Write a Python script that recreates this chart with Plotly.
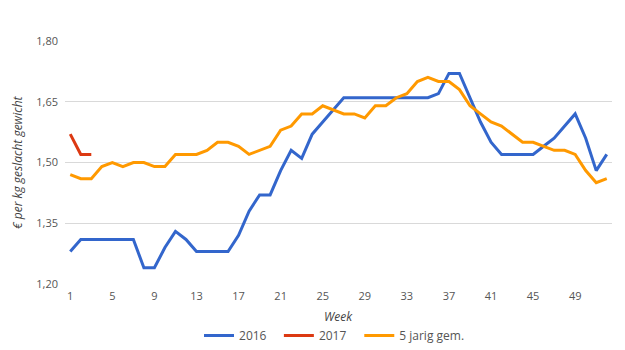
import plotly.graph_objects as go

# Weekly pig price (€ per kg carcass weight)
weeks = list(range(1, 53))

price_2016 = [
    1.28, 1.31, 1.31, 1.31, 1.31, 1.31, 1.31, 1.24, 1.24, 1.29,
    1.33, 1.31, 1.28, 1.28, 1.28, 1.28, 1.32, 1.38, 1.42, 1.42,
    1.48, 1.53, 1.51, 1.57, 1.60, 1.63, 1.66, 1.66, 1.66, 1.66,
    1.66, 1.66, 1.66, 1.66, 1.66, 1.67, 1.72, 1.72, 1.66, 1.60,
    1.55, 1.52, 1.52, 1.52, 1.52, 1.54, 1.56, 1.59, 1.62, 1.56,
    1.48, 1.52,
]

weeks_2017 = [1, 2, 3]
price_2017 = [1.57, 1.52, 1.52]

avg_5yr = [
    1.47, 1.46, 1.46, 1.49, 1.50, 1.49, 1.50, 1.50, 1.49, 1.49,
    1.52, 1.52, 1.52, 1.53, 1.55, 1.55, 1.54, 1.52, 1.53, 1.54,
    1.58, 1.59, 1.62, 1.62, 1.64, 1.63, 1.62, 1.62, 1.61, 1.64,
    1.64, 1.66, 1.67, 1.70, 1.71, 1.70, 1.70, 1.68, 1.64, 1.62,
    1.60, 1.59, 1.57, 1.55, 1.55, 1.54, 1.53, 1.53, 1.52, 1.48,
    1.45, 1.46,
]

x_ticks = list(range(1, 53, 4))
y_ticks = [1.20, 1.35, 1.50, 1.65, 1.80]

FONT = "Open Sans, Noto Sans, sans-serif"
TEXT = "#555555"
GRID = "#d9d9d9"

fig = go.Figure()
fig.add_trace(go.Scatter(x=weeks, y=price_2016, mode="lines", name="2016",
                         line=dict(color="#3366CC", width=3), legend="legend"))
fig.add_trace(go.Scatter(x=weeks_2017, y=price_2017, mode="lines", name="2017",
                         line=dict(color="#DC3912", width=3), legend="legend2"))
fig.add_trace(go.Scatter(x=weeks, y=avg_5yr, mode="lines", name="5 jarig gem.",
                         line=dict(color="#FF9900", width=3), legend="legend3"))


def legend_at(x):
    return dict(orientation="h", x=x, xanchor="left", y=-0.212, yanchor="middle",
                font=dict(size=12, color=TEXT), itemwidth=30,
                bgcolor="rgba(0,0,0,0)")


fig.update_layout(
    width=625, height=350,
    margin=dict(l=65, r=13, t=41, b=66, autoexpand=False),
    plot_bgcolor="white", paper_bgcolor="white",
    separators=",.",
    font=dict(family=FONT, size=11, color=TEXT),
    showlegend=True,
    legend=legend_at(0.245),
    legend2=legend_at(0.391),
    legend3=legend_at(0.538),
    xaxis=dict(range=[0.5, 52.5], tickvals=x_ticks, showgrid=False, zeroline=False,
               showline=False, ticks="", ticklabelstandoff=4, automargin=False,
               tickfont=dict(size=11, color=TEXT)),
    yaxis=dict(range=[1.20, 1.80], tickvals=y_ticks, tickformat=".2f",
               showgrid=True, gridcolor=GRID, gridwidth=1, zeroline=False,
               showline=False, ticks="", ticklabelstandoff=6, automargin=False,
               tickfont=dict(size=11, color=TEXT)),
    annotations=[
        dict(text="Week", xref="paper", yref="paper", x=0.5, y=-0.133,
             xanchor="center", yanchor="middle", showarrow=False,
             font=dict(family=FONT, size=12, color="#444444", style="italic")),
        dict(text="€ per kg geslacht gewicht", xref="paper", yref="paper",
             x=-0.087, y=0.5, xanchor="center", yanchor="middle", textangle=-90,
             showarrow=False,
             font=dict(family=FONT, size=12, color="#444444", style="italic")),
    ],
)

fig.write_html("out.html")
